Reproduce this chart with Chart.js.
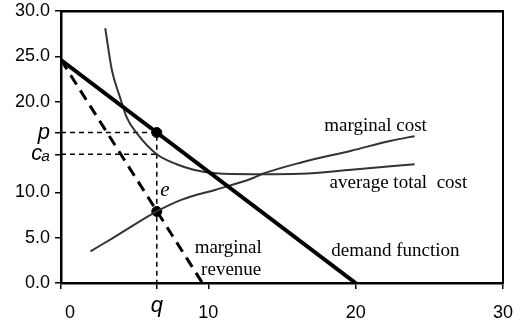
<!DOCTYPE html>
<html>
<head>
<meta charset="utf-8">
<script src="https://cdn.jsdelivr.net/npm/chart.js@4.4.1/dist/chart.umd.min.js"></script>
<style>
  html, body { margin: 0; padding: 0; background: #fff; }
  #wrap { width: 515px; height: 322px; }
</style>
</head>
<body>
<div id="wrap"><canvas id="c" width="515" height="322"></canvas></div>
<script>
// values
const qOut = 6.5;     // q
const pPrice = 16.6;  // p
const caCost = 14.2;  // c_a
const eCost = 7.9;    // e (marginal cost at q)

const demandQ = [0, 20];
const demandP = [24.6, 0];

const mrQ = [0, 9.6];
const mrP = [24.6, 0];

const mcQ = [2.0, 3.65, 6.5, 8.2, 10.5, 12.9, 13.6, 16.3, 19.7, 22.4, 24.0];
const mcP = [3.5, 5.1, 7.9, 9.2, 10.3, 11.5, 12.0, 13.3, 14.6, 15.7, 16.2];

const atcQ = [3.0, 3.45, 4.0, 4.45, 5.15, 6.5, 7.85, 9.0, 10.5, 13.0, 16.3, 19.7, 24.0];
const atcP = [28.1, 23.5, 20.5, 18.3, 16.5, 14.2, 13.1, 12.5, 12.1, 12.0, 12.05, 12.5, 13.1];

const xTicks = [0, qOut, 10, 20, 30];
const xTickLabels = ["\u2002\u20020", "q", "10", "20", "30"];
const yTicks = [0, 5, 10, caCost, pPrice, 20, 25, 30];
const yTickLabels = ["0.0", "5.0", "10.0", "c\u2090", "p", "20.0", "25.0", "30.0"];

// curve captions (data coordinates)
const notes = [
  { text: "marginal cost", x: 21.35, y: 17.3 },
  { text: "average total  cost", x: 22.9, y: 11.0 },
  { text: "demand function", x: 22.7, y: 3.55 },
  { text: "marginal", x: 11.35, y: 3.9 },
  { text: "revenue", x: 11.55, y: 1.45 },
  { text: "e", x: 7.05, y: 10.2, italic: true },
];

const pts = (xs, ys) => xs.map((x, i) => ({ x, y: ys[i] }));

const notesPlugin = {
  id: "notes",
  afterDatasetsDraw(chart) {
    const { ctx, scales } = chart;
    ctx.save();
    ctx.fillStyle = "#000";
    ctx.textAlign = "center";
    ctx.textBaseline = "middle";
    for (const n of notes) {
      ctx.font = (n.italic ? "italic 21px" : "19px") + " 'Liberation Serif'";
      ctx.fillText(n.text, scales.x.getPixelForValue(n.x), scales.y.getPixelForValue(n.y));
    }
    ctx.restore();
  },
};

// lineHeight is only used to place the labels vertically
const xFont = (c) =>
  c.tick && c.tick.value === qOut
    ? { family: "'Liberation Sans'", size: 22, style: "italic", lineHeight: 1.38 }
    : { family: "'Liberation Sans'", size: 18, lineHeight: 2.44 };
const yFont = (c) =>
  c.tick && (c.tick.value === pPrice || c.tick.value === caCost)
    ? { family: "'Liberation Sans'", size: 22, style: "italic", lineHeight: 0.6 }
    : { family: "'Liberation Sans'", size: 18, lineHeight: 0.67 };

new Chart(document.getElementById("c"), {
  type: "scatter",
  data: {
    datasets: [
      {
        label: "demand",
        data: pts(demandQ, demandP),
        showLine: true, borderColor: "#000", borderWidth: 4, pointRadius: 0,
      },
      {
        label: "marginal revenue",
        data: pts(mrQ, mrP),
        showLine: true, borderColor: "#000", borderWidth: 3, borderDash: [11, 7], pointRadius: 0,
      },
      {
        label: "marginal cost",
        data: pts(mcQ, mcP),
        showLine: true, borderColor: "#333", borderWidth: 2, pointRadius: 0,
        cubicInterpolationMode: "monotone",
      },
      {
        label: "average total cost",
        data: pts(atcQ, atcP),
        showLine: true, borderColor: "#333", borderWidth: 2, pointRadius: 0,
        cubicInterpolationMode: "monotone",
      },
      {
        label: "p guide",
        data: [{ x: 0, y: pPrice }, { x: qOut, y: pPrice }, { x: qOut, y: 0 }],
        showLine: true, borderColor: "#000", borderWidth: 1.5, borderDash: [5, 4], pointRadius: 0,
      },
      {
        label: "ca guide",
        data: [{ x: 0, y: caCost }, { x: qOut, y: caCost }],
        showLine: true, borderColor: "#000", borderWidth: 1.5, borderDash: [5, 4], pointRadius: 0,
      },
      {
        label: "points",
        data: [{ x: qOut, y: pPrice }, { x: qOut, y: eCost }],
        showLine: false, pointRadius: 5, pointBackgroundColor: "#000", pointBorderColor: "#000",
      },
    ],
  },
  options: {
    responsive: false,
    animation: false,
    layout: { padding: { left: 10, right: 0, top: 0, bottom: -15 } },
    plugins: { legend: { display: false }, tooltip: { enabled: false } },
    scales: {
      x: {
        type: "linear", min: 0, max: 30,
        afterBuildTicks: (s) => { s.ticks = xTicks.map((v) => ({ value: v })); },
        ticks: {
          color: "#000", padding: 2, maxRotation: 0, autoSkip: false,
          font: xFont,
          callback: (v) => xTickLabels[xTicks.indexOf(v)],
        },
        grid: { drawOnChartArea: false, tickLength: 6, color: "#000", lineWidth: 1.5 },
        border: { color: "#000", width: 2.5 },
      },
      y: {
        type: "linear", min: 0, max: 30,
        afterBuildTicks: (s) => { s.ticks = yTicks.map((v) => ({ value: v })); },
        ticks: {
          color: "#000", padding: 5, autoSkip: false,
          font: yFont,
          callback: (v) => yTickLabels[yTicks.indexOf(v)],
        },
        grid: { drawOnChartArea: false, tickLength: 6, color: "#000", lineWidth: 1.5 },
        border: { color: "#000", width: 2.5 },
      },
      x2: {
        type: "linear", position: "top", min: 0, max: 30,
        ticks: { display: false }, grid: { display: false, drawTicks: false },
        border: { color: "#000", width: 2.5 },
      },
      y2: {
        type: "linear", position: "right", min: 0, max: 30,
        ticks: { display: false }, grid: { display: false, drawTicks: false },
        border: { color: "#000", width: 2 },
      },
    },
  },
  plugins: [notesPlugin],
});
</script>
</body>
</html>
